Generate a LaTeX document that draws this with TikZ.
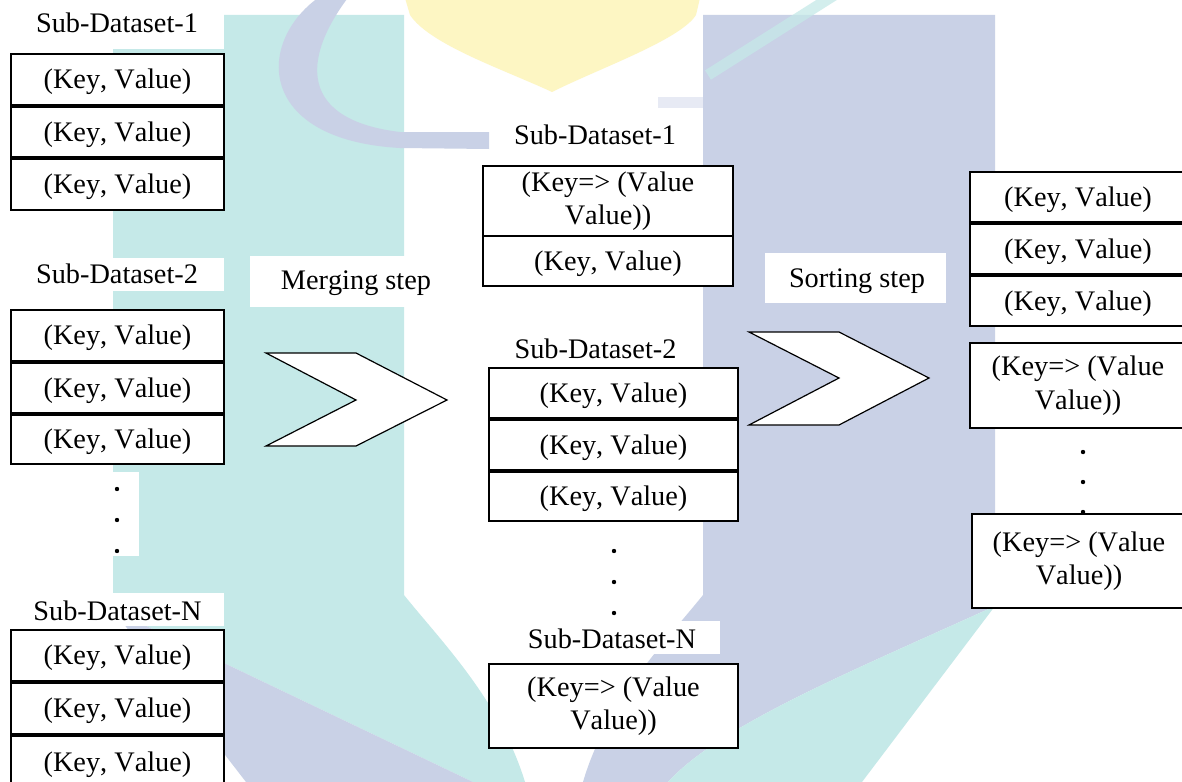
\documentclass[tikz,border=0pt]{standalone}
\usepackage{fontspec}
\setmainfont{Liberation Serif}[Kerning=Off]
\newcommand\kvfont{\fontsize{28.3bp}{33.5bp}\selectfont}
\definecolor{wmteal}{RGB}{197,233,232}
\definecolor{wmlav}{RGB}{201,209,230}
\definecolor{wmyel}{RGB}{253,246,195}
\tikzset{
  kvbox/.style={draw=black, line width=1.3bp, fill=white, inner sep=0pt,
    text height=19bp, text depth=1bp, font=\kvfont},
  kvpair/.style={draw=black, line width=1.3bp, fill=white, inner sep=0pt,
    align=center, font=\kvfont},
  tag/.style={inner sep=0pt, anchor=base, font=\kvfont},
  chev/.style={draw=black, line width=1.2bp, fill=white, line join=miter},
  ellip/.style={circle, fill=black, inner sep=0pt, minimum size=4.4bp},
  clearing/.style={fill=white, draw=none},
}
\begin{document}
\begin{tikzpicture}[x=1bp, y=-1bp]
\useasboundingbox (0,0) rectangle (1182,782);
\fill[white] (0,0) rectangle (1182,782);

% ---- faint emblem behind the diagram ----
% left column with its lower sweep
\fill[wmteal] (113,15) -- (404,15) -- (404,595)
  .. controls (440,640) and (500,700) .. (525,782)
  -- (473,782) -- (113,610) -- cycle;
\fill[wmlav] (113,610) -- (473,782) -- (246,782) -- cycle;
% right column with its lower sweep
\fill[wmlav] (703,15) -- (995,15) -- (995,606)
  .. controls (850,672) and (720,725) .. (668,782)
  -- (583,782) .. controls (607,700) and (667,640) .. (703,595) -- cycle;
\fill[wmteal] (995,606) .. controls (850,672) and (720,725) .. (668,782)
  -- (862,782) -- cycle;
% thin diagonal streak over the right column
\draw[wmteal, opacity=0.75, line width=11bp, line cap=butt] (836,-6) -- (708,75);
\fill[wmlav!45] (658,97) rectangle (703,108);
% crescent at the top left
\fill[wmlav] (322,-5) .. controls (255,40) and (255,140) .. (400,148)
  -- (489,149) -- (489,132) -- (400,132)
  .. controls (300,120) and (300,60) .. (350,-5) -- cycle;
% pointed shape at the top
\fill[wmyel] (405,-2) -- (700,-2) -- (696,15)
  .. controls (680,40) and (600,68) .. (552,92)
  .. controls (505,70) and (430,45) .. (410,15) -- cycle;

% ---- white patches behind the labels ----
\fill[clearing] (0,0) rectangle (224,49);
\fill[clearing] (0,258) rectangle (224,291);
\fill[clearing] (113,472) rectangle (139,556);
\fill[clearing] (0,593) rectangle (224,626);
\fill[clearing] (250,256) rectangle (462,307);
\fill[clearing] (765,253) rectangle (946,303);
\fill[clearing] (508,621) rectangle (720,654);

% ---- input sub-datasets ----
\node[tag] (lt1) at (117,33) {Sub-Dataset-1};
\node[kvbox, minimum width=213bp, minimum height=51bp] (l1a) at (117.5,79.5) {(Key, Value)};
\node[kvbox, minimum width=213bp, minimum height=50bp] (l1b) at (117.5,132) {(Key, Value)};
\node[kvbox, minimum width=213bp, minimum height=51bp] (l1c) at (117.5,184.5) {(Key, Value)};

\node[tag] (lt2) at (117,283) {Sub-Dataset-2};
\node[kvbox, minimum width=213bp, minimum height=51bp] (l2a) at (117.5,335.5) {(Key, Value)};
\node[kvbox, minimum width=213bp, minimum height=50bp] (l2b) at (117.5,388) {(Key, Value)};
\node[kvbox, minimum width=213bp, minimum height=49bp] (l2c) at (117.5,439.5) {(Key, Value)};

\node[ellip] (ld1) at (117,489) {};
\node[ellip] (ld2) at (117,520) {};
\node[ellip] (ld3) at (117,551) {};

\node[tag] (ltn) at (117.5,620) {Sub-Dataset-N};
\node[kvbox, minimum width=213bp, minimum height=51bp] (lna) at (117.5,655.5) {(Key, Value)};
\node[kvbox, minimum width=213bp, minimum height=51bp] (lnb) at (117.5,708.5) {(Key, Value)};
\node[kvbox, minimum width=213bp, minimum height=52bp] (lnc) at (117.5,762) {(Key, Value)};

% ---- merging step ----
\node[tag] (merge) at (356,289) {Merging step};
\draw[chev] (266,353) -- (356,353) -- (447,400) -- (356,446) -- (266,446) -- (356,400) -- cycle;

% ---- merged sub-datasets ----
\node[tag] (mt1) at (595,144) {Sub-Dataset-1};
\node[kvpair, minimum width=250bp, minimum height=70bp] (m1a) at (608,201) {(Key=> (Value\\Value))};
\node[kvbox, minimum width=250bp, minimum height=50bp] (m1b) at (608,261) {(Key, Value)};

\node[tag] (mt2) at (595.5,358) {Sub-Dataset-2};
\node[kvbox, minimum width=249bp, minimum height=50bp] (m2a) at (613.5,393) {(Key, Value)};
\node[kvbox, minimum width=249bp, minimum height=50bp] (m2b) at (613.5,445) {(Key, Value)};
\node[kvbox, minimum width=249bp, minimum height=49bp] (m2c) at (613.5,496.5) {(Key, Value)};

\node[ellip] (md1) at (614,551) {};
\node[ellip] (md2) at (614,582) {};
\node[ellip] (md3) at (614,613) {};

\node[tag] (mtn) at (612,648) {Sub-Dataset-N};
\node[kvpair, minimum width=249bp, minimum height=84bp] (mna) at (613.5,706) {(Key=> (Value\\Value))};

% ---- sorting step ----
\node[tag] (sort) at (857,287) {Sorting step};
\draw[chev] (749,332) -- (839,332) -- (929,378) -- (839,425) -- (749,425) -- (839,378) -- cycle;

% ---- sorted output ----
\node[kvbox, minimum width=216bp, minimum height=50bp] (r1) at (1078,197) {(Key, Value)};
\node[kvbox, minimum width=216bp, minimum height=50bp] (r2) at (1078,249) {(Key, Value)};
\node[kvbox, minimum width=216bp, minimum height=50bp] (r3) at (1078,301) {(Key, Value)};
\node[kvpair, minimum width=216bp, minimum height=85bp] (r4) at (1078,385.5) {(Key=> (Value\\Value))};

\node[ellip] (rd1) at (1083,452) {};
\node[ellip] (rd2) at (1083,482) {};
\node[ellip] (rd3) at (1083,512) {};

\node[kvpair, minimum width=214bp, minimum height=94bp] (r5) at (1079,561) {(Key=> (Value\\Value))};
\end{tikzpicture}
\end{document}
